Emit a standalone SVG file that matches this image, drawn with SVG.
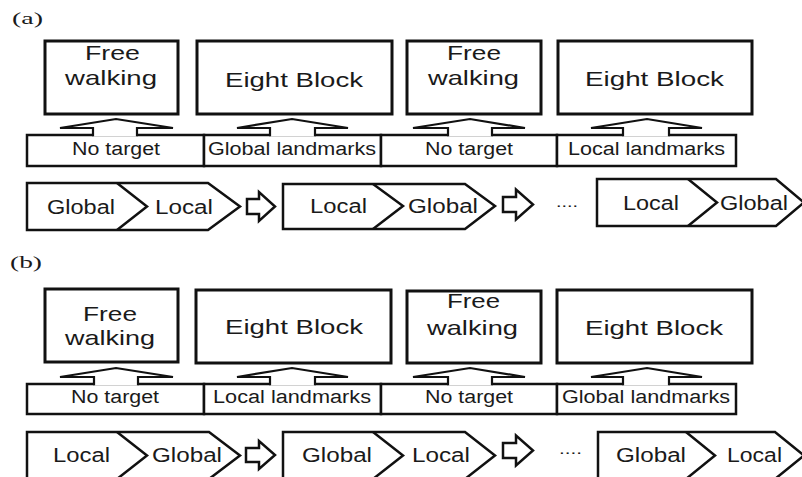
<svg xmlns="http://www.w3.org/2000/svg" width="802" height="477" viewBox="0 0 802 477">
<style>
.bg{fill:#fff}
.box{fill:#fff;stroke:#111;stroke-width:3}
.lbl{fill:#fff;stroke:#111;stroke-width:2.5}
.chev{fill:#fff;stroke:#111;stroke-width:2.5;stroke-linejoin:miter}
.div{fill:none;stroke:#111;stroke-width:2.5}
.up{fill:#fff;stroke:#111;stroke-width:2.2;stroke-linejoin:miter}
.ra{fill:#fff;stroke:#111;stroke-width:2.5;stroke-linejoin:miter}
text{font-family:"Liberation Sans",Arial,sans-serif;fill:#1a1a1a}
.t1{font-size:21px}
.t2{font-size:18px}
.t3{font-size:20px}
.cap{font-family:"Liberation Serif","Times New Roman",serif;font-size:17px}
.dots{font-size:14px}
</style>
<rect class="bg" x="0" y="0" width="802" height="477"/>

<text class="cap" x="12" y="24" textLength="31" lengthAdjust="spacingAndGlyphs">(a)</text>
<text class="cap" x="10" y="268" textLength="32" lengthAdjust="spacingAndGlyphs">(b)</text>

<!-- ===== (a) ===== -->
<g id="a-box1"><rect class="box" x="45" y="41" width="133" height="73"/>
<text class="t1" x="85" y="60" textLength="55" lengthAdjust="spacingAndGlyphs">Free</text>
<text class="t1" x="65" y="85" textLength="92" lengthAdjust="spacingAndGlyphs">walking</text></g>
<g id="a-box2"><rect class="box" x="197" y="41" width="195" height="73"/>
<text class="t1" x="225" y="87" textLength="138" lengthAdjust="spacingAndGlyphs">Eight Block</text></g>
<g id="a-box3"><rect class="box" x="407" y="41" width="134" height="73"/>
<text class="t1" x="447" y="60" textLength="54" lengthAdjust="spacingAndGlyphs">Free</text>
<text class="t1" x="428" y="85" textLength="91" lengthAdjust="spacingAndGlyphs">walking</text></g>
<g id="a-box4"><rect class="box" x="558" y="41" width="194" height="73"/>
<text class="t1" x="585" y="86" textLength="139" lengthAdjust="spacingAndGlyphs">Eight Block</text></g>

<g id="a-lbl1"><rect class="lbl" x="27" y="135" width="177" height="31"/>
<text class="t2" x="72" y="155" textLength="88" lengthAdjust="spacingAndGlyphs">No target</text></g>
<g id="a-lbl2"><rect class="lbl" x="204" y="135" width="177" height="31"/>
<text class="t2" x="208" y="155" textLength="168" lengthAdjust="spacingAndGlyphs">Global landmarks</text></g>
<g id="a-lbl3"><rect class="lbl" x="381" y="135" width="176" height="31"/>
<text class="t2" x="425" y="155" textLength="88" lengthAdjust="spacingAndGlyphs">No target</text></g>
<g id="a-lbl4"><rect class="lbl" x="557" y="135" width="179" height="31"/>
<text class="t2" x="568" y="155" textLength="157" lengthAdjust="spacingAndGlyphs">Local landmarks</text></g>

<g id="a-seq1"><path class="chev" d="M27,183 H208 L240,206.5 L208,230 H27 Z"/>
<path class="div" d="M117,183 L147,206.5 L117,230"/>
<text class="t3" x="47" y="214" textLength="68" lengthAdjust="spacingAndGlyphs">Global</text>
<text class="t3" x="155" y="214" textLength="58" lengthAdjust="spacingAndGlyphs">Local</text></g>
<g id="a-seq2"><path class="chev" d="M283,184 H465 L495,206 L465,229 H283 Z"/>
<path class="div" d="M373,184 L403,206 L373,229"/>
<text class="t3" x="310" y="213" textLength="57" lengthAdjust="spacingAndGlyphs">Local</text>
<text class="t3" x="408" y="213" textLength="70" lengthAdjust="spacingAndGlyphs">Global</text></g>
<g id="a-seq3"><path class="chev" d="M597,179 H776 L804,202.5 L776,226 H597 Z"/>
<path class="div" d="M688,179 L717,202.5 L688,226"/>
<text class="t3" x="623" y="210" textLength="56" lengthAdjust="spacingAndGlyphs">Local</text>
<text class="t3" x="720" y="210" textLength="68" lengthAdjust="spacingAndGlyphs">Global</text></g>
<text class="dots" x="556" y="207" textLength="22" lengthAdjust="spacingAndGlyphs">....</text>

<!-- ===== (b) ===== -->
<g id="b-box1"><rect class="box" x="45" y="289" width="133" height="73"/>
<text class="t1" x="83" y="321" textLength="54" lengthAdjust="spacingAndGlyphs">Free</text>
<text class="t1" x="65" y="345" textLength="90" lengthAdjust="spacingAndGlyphs">walking</text></g>
<g id="b-box2"><rect class="box" x="196" y="290" width="195" height="73"/>
<text class="t1" x="225" y="334" textLength="138" lengthAdjust="spacingAndGlyphs">Eight Block</text></g>
<g id="b-box3"><rect class="box" x="407" y="291" width="134" height="72"/>
<text class="t1" x="447" y="308" textLength="53" lengthAdjust="spacingAndGlyphs">Free</text>
<text class="t1" x="427" y="335" textLength="91" lengthAdjust="spacingAndGlyphs">walking</text></g>
<g id="b-box4"><rect class="box" x="557" y="290" width="195" height="73"/>
<text class="t1" x="585" y="335" textLength="138" lengthAdjust="spacingAndGlyphs">Eight Block</text></g>

<g id="b-lbl1"><rect class="lbl" x="27" y="384" width="177" height="30"/>
<text class="t2" x="71" y="403" textLength="88" lengthAdjust="spacingAndGlyphs">No target</text></g>
<g id="b-lbl2"><rect class="lbl" x="204" y="384" width="177" height="30"/>
<text class="t2" x="213" y="403" textLength="158" lengthAdjust="spacingAndGlyphs">Local landmarks</text></g>
<g id="b-lbl3"><rect class="lbl" x="381" y="384" width="176" height="30"/>
<text class="t2" x="425" y="403" textLength="88" lengthAdjust="spacingAndGlyphs">No target</text></g>
<g id="b-lbl4"><rect class="lbl" x="557" y="384" width="179" height="30"/>
<text class="t2" x="562" y="403" textLength="168" lengthAdjust="spacingAndGlyphs">Global landmarks</text></g>

<g id="b-seq1"><path class="chev" d="M27,432 H209 L240,455.5 L209,479 H27 Z"/>
<path class="div" d="M117,432 L147,455.5 L117,479"/>
<text class="t3" x="53" y="462" textLength="57" lengthAdjust="spacingAndGlyphs">Local</text>
<text class="t3" x="152" y="462" textLength="70" lengthAdjust="spacingAndGlyphs">Global</text></g>
<g id="b-seq2"><path class="chev" d="M283,432 H465 L495,455.5 L465,479 H283 Z"/>
<path class="div" d="M373,432 L403,455.5 L373,479"/>
<text class="t3" x="302" y="462" textLength="70" lengthAdjust="spacingAndGlyphs">Global</text>
<text class="t3" x="412" y="462" textLength="58" lengthAdjust="spacingAndGlyphs">Local</text></g>
<g id="b-seq3"><path class="chev" d="M598,432 H775 L804,455.5 L775,479 H598 Z"/>
<path class="div" d="M686,432 L715,455.5 L686,479"/>
<text class="t3" x="616" y="462" textLength="70" lengthAdjust="spacingAndGlyphs">Global</text>
<text class="t3" x="727" y="462" textLength="55" lengthAdjust="spacingAndGlyphs">Local</text></g>
<text class="dots" x="559" y="454" textLength="23" lengthAdjust="spacingAndGlyphs">....</text>

<!-- ===== connectors ===== -->
<g id="connectors">
<path class="up" d="M93,136.2 V128 H60 L116,119 L173,128 H137 V136.2"/>
<path class="up" d="M270,136.2 V128 H237 L292,119 L348,128 H315 V136.2"/>
<path class="up" d="M448,136.2 V128 H413 L470,119 L525,128 H492 V136.2"/>
<path class="up" d="M623,136.2 V128 H591 L647,119 L702,128 H669 V136.2"/>
<path class="up" d="M94,385.2 V377 H60 L116,368 L173,377 H138 V385.2"/>
<path class="up" d="M270,385.2 V377 H237 L292,368 L348,377 H315 V385.2"/>
<path class="up" d="M448,385.2 V377 H413 L470,368 L525,377 H492 V385.2"/>
<path class="up" d="M623,385.2 V377 H591 L647,368 L702,377 H669 V385.2"/>
<path class="ra" d="M247,199 H259 V192 L275,206.5 L259,221 V214 H247 Z"/>
<path class="ra" d="M503,197 H516 V189.5 L533,204.5 L516,219.5 V212 H503 Z"/>
<path class="ra" d="M246,448 H259 V441 L275,455 L259,469 V462 H246 Z"/>
<path class="ra" d="M503,443 H516 V435.5 L533,450.5 L516,465.5 V458 H503 Z"/>
</g>
</svg>
